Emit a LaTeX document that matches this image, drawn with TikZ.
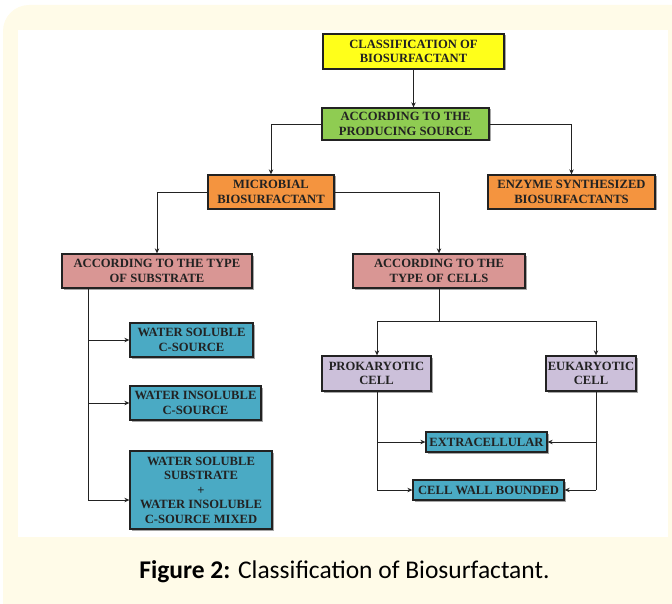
\documentclass[tikz,border=0pt]{standalone}
\usepackage{fontspec}
\setmainfont{Liberation Serif}
\newfontfamily\capfont{Carlito}
\usetikzlibrary{arrows.meta,shadows}
\definecolor{cream}{HTML}{FFFBE8}
\definecolor{ybox}{HTML}{FFFF1A}
\definecolor{gbox}{HTML}{8FCC52}
\definecolor{obox}{HTML}{F4943F}
\definecolor{pbox}{HTML}{D99694}
\definecolor{lbox}{HTML}{CCC0DA}
\definecolor{bbox}{HTML}{4AAAC4}
\definecolor{ink}{HTML}{222222}
\tikzset{
  x=1pt, y=-1pt,
  box/.style={draw=ink, line width=1.3pt, inner sep=0pt, align=center,
    font=\bfseries\fontsize{12.6}{14.5}\selectfont, text=ink,
    drop shadow={shadow xshift=1.5pt, shadow yshift=-1.5pt, fill=black, opacity=0.35}},
  link/.style={draw=ink, line width=0.9pt},
  arr/.style={link, -{Stealth[length=5pt,width=4.5pt]}},
}
\newcommand{\bx}[7]{% name, x1, y1, x2, y2, colour, text
  \node[box, fill=#6, minimum width={#4-#2}, minimum height={#5-#3}]
    (#1) at ({(#2+#4)/2},{(#3+#5)/2}) {#7};}
\begin{document}
\begin{tikzpicture}
\useasboundingbox (0,0) rectangle (672,604);
% framed panel
\fill[cream, rounded corners=26pt] (3,5) rectangle (700,640);
\fill[white] (18,30) rectangle (668,537);

% boxes
\bx{top}{323}{34}{504}{69}{ybox}{CLASSIFICATION OF\\BIOSURFACTANT}
\bx{src}{322}{108}{489}{140}{gbox}{ACCORDING TO THE\\PRODUCING SOURCE}
\bx{mic}{208}{175}{334}{209}{obox}{MICROBIAL\\BIOSURFACTANT}
\bx{enz}{488}{175}{655}{209}{obox}{ENZYME SYNTHESIZED\\BIOSURFACTANTS}
\bx{sub}{62}{254}{252}{288}{pbox}{ACCORDING TO THE TYPE\\OF SUBSTRATE}
\bx{cel}{353}{254}{525}{288}{pbox}{ACCORDING TO THE\\TYPE OF CELLS}
\bx{ws}{130}{323}{253}{357}{bbox}{WATER SOLUBLE\\C-SOURCE}
\bx{wi}{130}{386}{261}{420}{bbox}{WATER INSOLUBLE\\C-SOURCE}
\bx{mix}{130}{451}{272}{529}{bbox}{WATER SOLUBLE\\SUBSTRATE\\+\\WATER INSOLUBLE\\C-SOURCE MIXED}
\bx{pro}{322}{356}{431}{391}{lbox}{PROKARYOTIC\\CELL}
\bx{euk}{546}{356}{636}{391}{lbox}{EUKARYOTIC\\CELL}
\bx{ext}{426}{432}{547}{452}{bbox}{EXTRACELLULAR}
\bx{cwb}{413}{480}{564}{500}{bbox}{CELL WALL BOUNDED}

% connectors
\draw[arr] (top.south) -- (top.south |- src.north);
\draw[arr] (src.west) -| (mic.north);
\draw[arr] (src.east) -| (enz.north);
\draw[arr] (mic.west) -| (sub.north);
\draw[arr] (mic.east) -| (cel.north);

\coordinate (sv) at (88,500);
\draw[link] (sub.south -| sv) -- (sv);
\draw[arr] (sv |- ws.west) -- (ws.west);
\draw[arr] (sv |- wi.west) -- (wi.west);
\draw[arr] (sv) -- (sv -| mix.west);

\coordinate (cs) at (439,321);
\draw[link] (cel.south -| cs) -- (cs);
\draw[link] (377,321) -- (596,321);
\draw[arr] (377,321) -- (pro.north -| 377,0);
\draw[arr] (596,321) -- (euk.north -| 596,0);

\coordinate (pl) at (377,490);
\coordinate (el) at (596,490);
\draw[link] (pro.south -| pl) -- (pl);
\draw[link] (euk.south -| el) -- (el);
\draw[arr] (pl |- ext.west) -- (ext.west);
\draw[arr] (pl) -- (cwb.west);
\draw[arr] (el |- ext.east) -- (ext.east);
\draw[arr] (el) -- (cwb.east);

% caption
\node[font=\capfont\fontsize{25.5}{30}\selectfont, text=black] (cap) at (344.5,572)
  {\textbf{Figure 2:} Classification of Biosurfactant.};
\end{tikzpicture}
\end{document}
